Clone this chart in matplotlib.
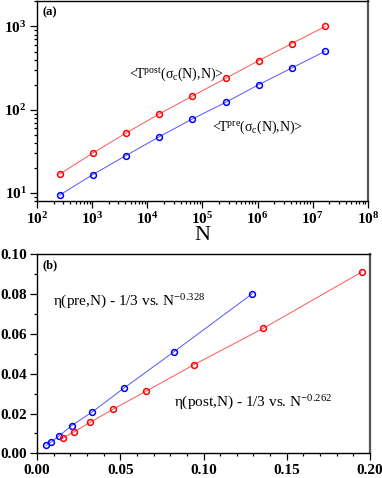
import numpy as np
import matplotlib
matplotlib.use("Agg")
import matplotlib.pyplot as plt
from matplotlib.ticker import FuncFormatter, MultipleLocator, LogLocator, NullFormatter

plt.rcParams['font.family'] = ['Liberation Serif', 'DejaVu Serif']
plt.rcParams['mathtext.fontset'] = 'custom'
plt.rcParams['mathtext.rm'] = 'Liberation Serif'
plt.rcParams['mathtext.bf'] = 'Liberation Serif:bold'
plt.rcParams['mathtext.it'] = 'Liberation Serif:italic'

# panel (a): system size vs mean avalanche duration
N = [256, 1024, 4096, 16384, 65536, 262144, 1048576, 4194304, 16777216]
T_post = [16.8, 30.1, 52.4, 88.7, 146, 238, 389, 624, 1000]
T_pre = [9.4, 16.6, 28.1, 47.3, 77.3, 122.5, 200, 318, 504]

# panel (b): eta - 1/3 vs N^-exponent
x_pre = [0.0054, 0.0086, 0.0134, 0.0208, 0.0333, 0.0521, 0.0820, 0.1293]
y_pre = [0.0040, 0.0057, 0.0089, 0.0139, 0.0209, 0.0327, 0.0509, 0.0802]
x_post = [0.0156, 0.0224, 0.0319, 0.0459, 0.0657, 0.0944, 0.1359, 0.1950]
y_post = [0.0077, 0.0109, 0.0156, 0.0223, 0.0313, 0.0446, 0.0628, 0.0911]

fig = plt.figure(figsize=(3.82, 4.78), dpi=100)
ax1 = fig.add_axes([0.097, 0.5795, 0.866, 0.4175])
ax2 = fig.add_axes([0.097, 0.0516, 0.8716, 0.4164])

def series(ax, x, y, col, linecol):
    ax.plot(x, y, color=linecol, linewidth=0.7)
    ax.plot(x, y, linestyle='none', marker='o', markersize=4.2,
            markerfacecolor='none', markeredgecolor=col, markeredgewidth=1.1)

series(ax1, N, T_post, 'red', '#ff5555')
series(ax1, N, T_pre, 'blue', '#5555ff')
ax1.set_xscale('log')
ax1.set_yscale('log')
ax1.set_xlim(1e2, 1e8)
ax1.set_ylim(8, 2000)

def logfmt(v, pos):
    e = int(round(np.log10(v)))
    return r'$\mathbf{10^{%d}}$' % e

ax1.xaxis.set_major_locator(LogLocator(base=10, numticks=10))
ax1.yaxis.set_major_locator(LogLocator(base=10, numticks=10))
ax1.xaxis.set_minor_locator(LogLocator(base=10, subs=np.arange(2, 10), numticks=20))
ax1.yaxis.set_minor_locator(LogLocator(base=10, subs=np.arange(2, 10), numticks=20))
ax1.xaxis.set_major_formatter(FuncFormatter(logfmt))
ax1.yaxis.set_major_formatter(FuncFormatter(logfmt))
ax1.xaxis.set_minor_formatter(NullFormatter())
ax1.yaxis.set_minor_formatter(NullFormatter())
ax1.set_xlabel('N', fontsize=16, labelpad=-1)

ax1.text(4600, 265, r'<T$^{\rm post}$(σ$_{\rm c}$(N),N)>', fontsize=10, va='center')
ax1.text(148000, 61, r'<T$^{\rm pre}$(σ$_{\rm c}$(N),N)>', fontsize=10, va='center')
ax1.text(0.015, 0.975, '(a)', transform=ax1.transAxes, fontsize=9, fontweight='bold', va='top')

series(ax2, x_pre, y_pre, 'blue', '#5555ff')
series(ax2, x_post, y_post, 'red', '#ff5555')
ax2.set_xlim(0, 0.2)
ax2.set_ylim(0, 0.1)
ax2.xaxis.set_major_locator(MultipleLocator(0.05))
ax2.xaxis.set_minor_locator(MultipleLocator(0.01))
ax2.yaxis.set_major_locator(MultipleLocator(0.02))
ax2.yaxis.set_minor_locator(MultipleLocator(0.01))
ax2.xaxis.set_major_formatter(FuncFormatter(lambda v, p: '%.2f' % v))
ax2.yaxis.set_major_formatter(FuncFormatter(lambda v, p: '%.2f' % v))

ax2.text(0.0098, 0.076, r'η(pre,N) - 1/3 vs. N$^{-0.328}$', fontsize=11, va='center')
ax2.text(0.082, 0.0253, r'η(post,N) - 1/3 vs. N$^{-0.262}$', fontsize=11, va='center')
ax2.text(0.015, 0.975, '(b)', transform=ax2.transAxes, fontsize=9, fontweight='bold', va='top')

for ax in (ax1, ax2):
    ax.tick_params(which='both', direction='out', top=False, right=False, width=0.9)
    ax.tick_params(which='major', length=5, labelsize=11, pad=2.5)
    ax.tick_params(which='minor', length=2.5)
    for lbl in ax.get_xticklabels() + ax.get_yticklabels():
        lbl.set_fontweight('bold')
    for s in ax.spines.values():
        s.set_linewidth(1.0)
    ax.spines['right'].set_linewidth(1.6)
    ax.spines['right'].set_color('#555555')

fig.savefig('out.png', dpi=100)
